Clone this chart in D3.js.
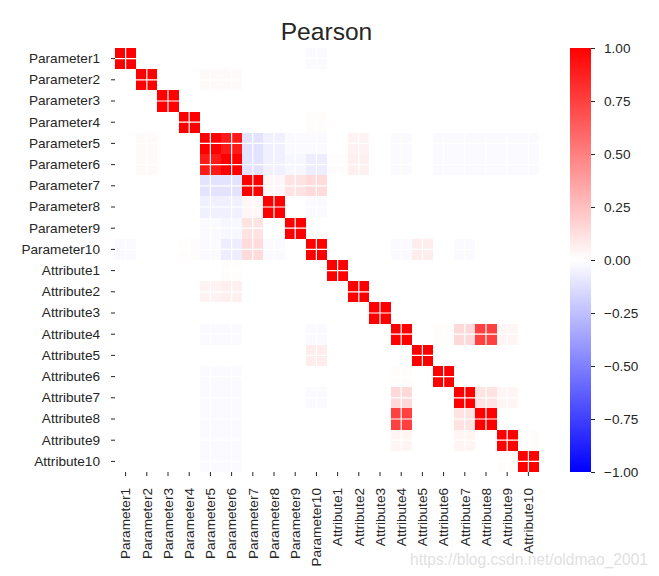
<!DOCTYPE html>
<html>
<head>
<meta charset="utf-8">
<script src="https://cdn.jsdelivr.net/npm/d3@7"></script>
<style>
  html, body { margin: 0; padding: 0; background: #ffffff; }
  svg { display: block; font-family: "Liberation Sans", Arial, sans-serif; }
</style>
</head>
<body>
<svg id="chart" width="659" height="576"></svg>
<script>
const categories = [
  "Parameter1", "Parameter2", "Parameter3", "Parameter4", "Parameter5",
  "Parameter6", "Parameter7", "Parameter8", "Parameter9", "Parameter10",
  "Attribute1", "Attribute2", "Attribute3", "Attribute4", "Attribute5",
  "Attribute6", "Attribute7", "Attribute8", "Attribute9", "Attribute10"
];

// Pearson correlation matrix (rows follow categories)
const correlations = [
  [ 1.00, 0.00, 0.00, 0.00, 0.00, 0.00, 0.00, 0.00, 0.00,-0.02, 0.00, 0.00, 0.00, 0.00, 0.00, 0.00, 0.00, 0.00, 0.00, 0.00],
  [ 0.00, 1.00, 0.00, 0.00, 0.02, 0.02, 0.00, 0.00, 0.00, 0.00, 0.00, 0.00, 0.00, 0.00, 0.00, 0.00, 0.00, 0.00, 0.00, 0.00],
  [ 0.00, 0.00, 1.00, 0.00, 0.00, 0.00, 0.00, 0.00, 0.00, 0.00, 0.00, 0.00, 0.00, 0.00, 0.00, 0.00, 0.00, 0.00, 0.00, 0.00],
  [ 0.00, 0.00, 0.00, 1.00, 0.00, 0.00, 0.00, 0.00, 0.00, 0.01, 0.00, 0.00, 0.00, 0.00, 0.00, 0.00, 0.00, 0.00, 0.00, 0.00],
  [ 0.00, 0.02, 0.00, 0.00, 1.00, 0.90,-0.11,-0.06,-0.02,-0.02, 0.00, 0.05, 0.00,-0.02, 0.00,-0.015,-0.015,-0.015,-0.015,-0.015],
  [ 0.00, 0.02, 0.00, 0.00, 0.90, 1.00,-0.11,-0.06,-0.03,-0.07, 0.01, 0.06, 0.00,-0.02, 0.00,-0.015,-0.015,-0.015,-0.015,-0.015],
  [ 0.00, 0.00, 0.00, 0.00,-0.11,-0.11, 1.00, 0.03, 0.11, 0.14, 0.00, 0.00, 0.00, 0.00, 0.00, 0.00, 0.00, 0.00, 0.00, 0.00],
  [ 0.00, 0.00, 0.00, 0.00,-0.06,-0.06, 0.03, 1.00, 0.00,-0.02, 0.00, 0.00, 0.00, 0.00, 0.00, 0.00, 0.00, 0.00, 0.00, 0.00],
  [ 0.00, 0.00, 0.00, 0.00,-0.02,-0.03, 0.11, 0.00, 1.00, 0.00, 0.00, 0.00, 0.00, 0.00, 0.00, 0.00, 0.00, 0.00, 0.00, 0.00],
  [-0.02, 0.00, 0.00, 0.01,-0.02,-0.07, 0.14,-0.02, 0.00, 1.00, 0.00, 0.00, 0.00,-0.02, 0.07, 0.00,-0.02, 0.00, 0.00, 0.00],
  [ 0.00, 0.00, 0.00, 0.00, 0.00, 0.01, 0.00, 0.00, 0.00, 0.00, 1.00, 0.00, 0.00, 0.00, 0.00, 0.00, 0.00, 0.00, 0.00, 0.00],
  [ 0.00, 0.00, 0.00, 0.00, 0.05, 0.06, 0.00, 0.00, 0.00, 0.00, 0.00, 1.00, 0.00, 0.00, 0.00, 0.00, 0.00, 0.00, 0.00, 0.00],
  [ 0.00, 0.00, 0.00, 0.00, 0.00, 0.00, 0.00, 0.00, 0.00, 0.00, 0.00, 0.00, 1.00, 0.00, 0.00, 0.00, 0.00, 0.00, 0.00, 0.00],
  [ 0.00, 0.00, 0.00, 0.00,-0.02,-0.02, 0.00, 0.00, 0.00,-0.02, 0.00, 0.00, 0.00, 1.00, 0.00, 0.01, 0.15, 0.75, 0.04, 0.00],
  [ 0.00, 0.00, 0.00, 0.00, 0.00, 0.00, 0.00, 0.00, 0.00, 0.07, 0.00, 0.00, 0.00, 0.00, 1.00, 0.00, 0.00, 0.00, 0.00, 0.00],
  [ 0.00, 0.00, 0.00, 0.00,-0.015,-0.015,0.00, 0.00, 0.00, 0.00, 0.00, 0.00, 0.00, 0.01, 0.00, 1.00, 0.00, 0.00, 0.00, 0.00],
  [ 0.00, 0.00, 0.00, 0.00,-0.015,-0.015,0.00, 0.00, 0.00,-0.02, 0.00, 0.00, 0.00, 0.15, 0.00, 0.00, 1.00, 0.11, 0.04, 0.00],
  [ 0.00, 0.00, 0.00, 0.00,-0.015,-0.015,0.00, 0.00, 0.00, 0.00, 0.00, 0.00, 0.00, 0.75, 0.00, 0.00, 0.11, 1.00, 0.00, 0.00],
  [ 0.00, 0.00, 0.00, 0.00,-0.015,-0.015,0.00, 0.00, 0.00, 0.00, 0.00, 0.00, 0.00, 0.04, 0.00, 0.00, 0.04, 0.00, 1.00, 0.01],
  [ 0.00, 0.00, 0.00, 0.00,-0.015,-0.015,0.00, 0.00, 0.00, 0.00, 0.00, 0.00, 0.00, 0.00, 0.00, 0.00, 0.00, 0.00, 0.01, 1.00]
];

const colorbarTicks = [-1.00, -0.75, -0.50, -0.25, 0.00, 0.25, 0.50, 0.75, 1.00];
const titleText = "Pearson";
const watermarkText = "https://blog.csdn.net/oldmao_2001";

const svg = d3.select("#chart");
const textColor = "#262626";
const fontSize = "13.6px";

const plotLeft = 115, plotRight = 539, plotTop = 48, plotBottom = 472;

const x = d3.scaleBand().domain(categories).range([plotLeft, plotRight]).paddingInner(0).paddingOuter(0);
const y = d3.scaleBand().domain(categories).range([plotTop, plotBottom]).paddingInner(0).paddingOuter(0);
const color = d3.scaleLinear().domain([-1, 0, 1]).range(["#0000ff", "#ffffff", "#ff0000"]).clamp(true);

const cells = [];
correlations.forEach((row, i) => row.forEach((v, j) => cells.push({ r: categories[i], c: categories[j], v })));

svg.append("g").selectAll("rect").data(cells).join("rect")
  .attr("x", d => x(d.c))
  .attr("y", d => y(d.r))
  .attr("width", x.bandwidth() + 0.3)
  .attr("height", y.bandwidth() + 0.3)
  .attr("fill", d => color(d.v))
  .attr("shape-rendering", "crispEdges");

// white grid lines at tick positions
const grid = svg.append("g").attr("stroke", "#ffffff").attr("stroke-width", 1.2);
categories.forEach(cat => {
  const cx = x(cat) + x.bandwidth() / 2;
  const cy = y(cat) + y.bandwidth() / 2;
  grid.append("line").attr("x1", cx).attr("x2", cx).attr("y1", plotTop).attr("y2", plotBottom);
  grid.append("line").attr("x1", plotLeft).attr("x2", plotRight).attr("y1", cy).attr("y2", cy);
});

// Y axis
const yAxis = svg.append("g").attr("transform", `translate(${plotLeft},0)`)
  .call(d3.axisLeft(y).tickSize(4).tickPadding(11));
yAxis.select(".domain").remove();
yAxis.selectAll("line").attr("stroke", textColor).attr("stroke-width", 1);
yAxis.selectAll("text").attr("fill", textColor).style("font-size", fontSize)
  .style("font-family", '"Liberation Sans", Arial, sans-serif');

// X axis
const xAxis = svg.append("g").attr("transform", `translate(0,${plotBottom})`)
  .call(d3.axisBottom(x).tickSize(4));
xAxis.select(".domain").remove();
xAxis.selectAll("line").attr("stroke", textColor).attr("stroke-width", 1);
xAxis.selectAll("text")
  .attr("fill", textColor).style("font-size", fontSize)
  .style("font-family", '"Liberation Sans", Arial, sans-serif')
  .attr("transform", "rotate(-90)")
  .attr("text-anchor", "end")
  .attr("x", -16).attr("y", 0).attr("dy", "0.35em");

// Title
svg.append("text")
  .attr("x", 326.5).attr("y", 39.5)
  .attr("text-anchor", "middle")
  .attr("fill", textColor)
  .style("font-size", "24.6px")
  .text(titleText);

// Colorbar
const cbX = 570, cbW = 21;
const cbScale = d3.scaleLinear().domain([-1, 1]).range([plotBottom, plotTop]);
const defs = svg.append("defs");
const grad = defs.append("linearGradient").attr("id", "cbgrad")
  .attr("x1", 0).attr("x2", 0).attr("y1", 1).attr("y2", 0);
d3.range(0, 1.0001, 0.1).forEach(t => {
  grad.append("stop").attr("offset", t).attr("stop-color", color(-1 + 2 * t));
});
svg.append("rect")
  .attr("x", cbX).attr("y", cbScale(1))
  .attr("width", cbW).attr("height", cbScale(-1) - cbScale(1))
  .attr("fill", "url(#cbgrad)");
const cbAxis = svg.append("g").attr("transform", `translate(${cbX + cbW},0)`)
  .call(d3.axisRight(cbScale).tickValues(colorbarTicks).tickFormat(d3.format(".2f")).tickSize(4).tickPadding(9));
cbAxis.select(".domain").remove();
cbAxis.selectAll("line").attr("stroke", textColor);
cbAxis.selectAll("text").attr("fill", textColor).style("font-size", fontSize)
  .style("font-family", '"Liberation Sans", Arial, sans-serif');

// Watermark
svg.append("text")
  .attr("x", 410).attr("y", 565)
  .attr("fill", "#dcdcdc")
  .attr("fill-opacity", 0.9)
  .attr("textLength", 238)
  .attr("lengthAdjust", "spacingAndGlyphs")
  .style("font-size", "16px")
  .text(watermarkText);
</script>
</body>
</html>
